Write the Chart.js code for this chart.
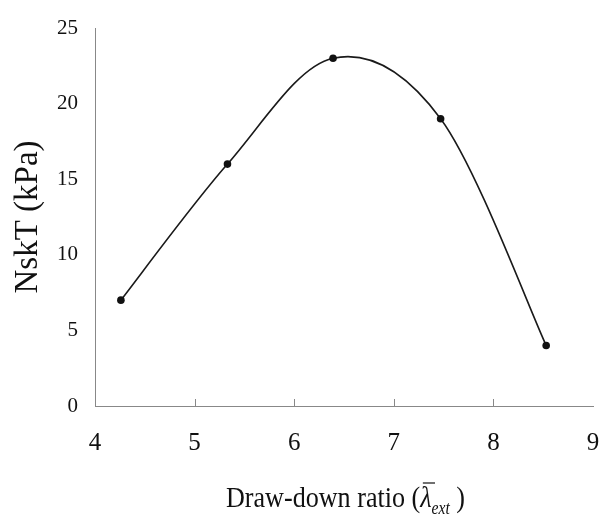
<!DOCTYPE html>
<html>
<head>
<meta charset="utf-8">
<script src="https://cdn.jsdelivr.net/npm/chart.js@4.4.0/dist/chart.umd.min.js"></script>
<style>
  html, body { margin: 0; padding: 0; background: #fff; }
  #wrap { width: 605px; height: 517px; }
</style>
</head>
<body>
<div id="wrap"><canvas id="c" width="605" height="517"></canvas></div>
<script>
// draw-down ratio vs. NskT
const drawRatio = [4.26, 5.33, 6.39, 7.47, 8.53];
const nskT = [7, 16, 23, 19, 4];
const xTicks = [4, 5, 6, 7, 8, 9];
const yTicks = [0, 5, 10, 15, 20, 25];

const serif = '"Liberation Serif", "DejaVu Serif", serif';

// spreadsheet-style smoothing: handles are 1/6 of the neighbour chord,
// not weighted by segment length like Chart.js does
const evenSmooth = {
    id: 'evenSmooth',
    beforeDatasetDraw(chart, args) {
        const meta = args.meta;
        meta.dataset.updateControlPoints(chart.chartArea, 'x');
        const pts = meta.data;
        const n = pts.length;
        for (let i = 0; i < n; i++) {
            const p = pts[i];
            const prev = pts[Math.max(i - 1, 0)];
            const next = pts[Math.min(i + 1, n - 1)];
            const dx = (next.x - prev.x) / 6;
            const dy = (next.y - prev.y) / 6;
            p.cp1x = p.x - dx;
            p.cp1y = p.y - dy;
            p.cp2x = p.x + dx;
            p.cp2y = p.y + dy;
        }
    }
};

// inward tick marks on the x axis + the x title with λ̄ext
const axisDecor = {
    id: 'axisDecor',
    afterDraw(chart) {
        const { ctx, scales: { x, y } } = chart;
        ctx.save();
        ctx.strokeStyle = '#888';
        ctx.lineWidth = 1;
        const y0 = y.getPixelForValue(0);
        for (const t of xTicks.slice(1, -1)) {
            const px = Math.round(x.getPixelForValue(t)) + 0.5;
            ctx.beginPath();
            ctx.moveTo(px, y0);
            ctx.lineTo(px, y0 - 7);
            ctx.stroke();
        }

        // x axis title, slightly narrowed serif
        const sx = 0.87;
        const base = 507;
        const p1 = 'Draw-down ratio (';
        const p2 = '\u03bb';
        const p3 = 'ext';
        const p4 = ' )';
        const big = '30px ' + serif;
        const bigIt = 'italic 30px ' + serif;
        const small = 'italic 18px ' + serif;
        ctx.font = big;
        const w1 = ctx.measureText(p1).width;
        const w4 = ctx.measureText(p4).width;
        ctx.font = bigIt;
        const w2 = ctx.measureText(p2).width;
        ctx.font = small;
        const w3 = ctx.measureText(p3).width;

        ctx.translate(226, base);
        ctx.scale(sx, 1);
        ctx.fillStyle = '#111';
        ctx.strokeStyle = '#111';
        ctx.textBaseline = 'alphabetic';
        ctx.textAlign = 'left';
        let cx = 0;
        ctx.font = big;
        ctx.fillText(p1, cx, 0);
        cx += w1;
        ctx.font = bigIt;
        ctx.fillText(p2, cx, 0);
        // bar over lambda
        ctx.lineWidth = 1.2;
        ctx.beginPath();
        ctx.moveTo(cx + 3, -24);
        ctx.lineTo(cx + w2 + 4, -24);
        ctx.stroke();
        cx += w2;
        ctx.font = small;
        ctx.fillText(p3, cx, 7);
        cx += w3;
        ctx.font = big;
        ctx.fillText(p4, cx, 0);
        ctx.restore();
    }
};

new Chart(document.getElementById('c'), {
    type: 'scatter',
    data: {
        datasets: [{
            data: drawRatio.map((v, i) => ({ x: v, y: nskT[i] })),
            showLine: true,
            tension: 0.33,
            borderColor: '#1a1a1a',
            borderWidth: 1.6,
            pointRadius: 3.8,
            pointBackgroundColor: '#111',
            pointBorderColor: '#111',
            pointBorderWidth: 0
        }]
    },
    options: {
        responsive: false,
        animation: false,
        layout: { padding: { top: 28, right: 12, left: 0, bottom: 0 } },
        plugins: {
            legend: { display: false },
            tooltip: { enabled: false }
        },
        scales: {
            x: {
                type: 'linear',
                min: 4,
                max: 9,
                afterBuildTicks: (s) => { s.ticks = xTicks.map(v => ({ value: v })); },
                afterFit: (s) => {
                    s.height = 111;
                    s.paddingLeft = 0;
                    s.paddingRight = 0;
                },
                grid: { display: false, drawTicks: false },
                border: { display: true, color: '#888', width: 1 },
                ticks: {
                    color: '#111',
                    padding: 22,
                    maxRotation: 0,
                    font: { family: serif, size: 25 }
                }
            },
            y: {
                min: 0,
                max: 25,
                afterBuildTicks: (s) => { s.ticks = yTicks.map(v => ({ value: v })); },
                afterFit: (s) => {
                    s.width = 95;
                    s.paddingTop = 0;
                    s.paddingBottom = 0;
                },
                grid: { display: false, drawTicks: false },
                border: { display: true, color: '#888', width: 1 },
                ticks: {
                    color: '#111',
                    padding: 17,
                    font: { family: serif, size: 21 }
                },
                title: {
                    display: true,
                    text: 'NskT (kPa)',
                    color: '#111',
                    padding: { top: 9, bottom: 0 },
                    font: { family: serif, size: 33 }
                }
            }
        }
    },
    plugins: [evenSmooth, axisDecor]
});
</script>
</body>
</html>
